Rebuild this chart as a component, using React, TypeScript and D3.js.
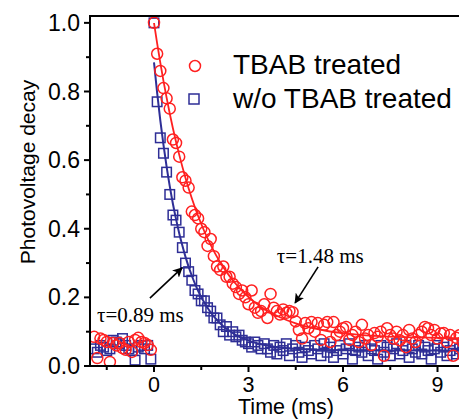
import React from "react";
import * as d3 from "d3";

const sampleTimes = [
  -1.9, -1.8, -1.7, -1.6, -1.5, -1.4, -1.3, -1.2, -1.1, -1.0, -0.9, -0.8, -0.7, -0.6, -0.5, -0.4, -0.3, -0.2, -0.1,
  0.0, 0.1, 0.2, 0.3, 0.4, 0.5, 0.6, 0.7, 0.8, 0.9, 1.0, 1.1, 1.2, 1.3, 1.4, 1.5, 1.6, 1.7, 1.8, 1.9,
  2.0, 2.1, 2.2, 2.3, 2.4, 2.5, 2.6, 2.7, 2.8, 2.9, 3.0, 3.1, 3.2, 3.3, 3.4, 3.5, 3.6, 3.7, 3.8, 3.9,
  4.0, 4.1, 4.2, 4.3, 4.4, 4.5, 4.6, 4.7, 4.8, 4.9, 5.0, 5.1, 5.2, 5.3, 5.4, 5.5, 5.6, 5.7, 5.8, 5.9,
  6.0, 6.1, 6.2, 6.3, 6.4, 6.5, 6.6, 6.7, 6.8, 6.9, 7.0, 7.1, 7.2, 7.3, 7.4, 7.5, 7.6, 7.7, 7.8, 7.9,
  8.0, 8.1, 8.2, 8.3, 8.4, 8.5, 8.6, 8.7, 8.8, 8.9, 9.0, 9.1, 9.2, 9.3, 9.4, 9.5, 9.6, 9.7, 9.8, 9.9, 10.0,
];

const tbabValues = [
  0.085, 0.023, 0.08, 0.076, 0.07, 0.012, 0.067, 0.06, 0.067, 0.052, 0.047, 0.07, 0.041, 0.076, 0.082, 0.07, 0.067, 0.061, 0.047,
  1.0, 0.91, 0.86, 0.81, 0.78, 0.75, 0.66, 0.65, 0.61, 0.55, 0.54, 0.52, 0.45, 0.44, 0.43, 0.4, 0.39, 0.35, 0.37, 0.32,
  0.29, 0.28, 0.29, 0.26, 0.26, 0.24, 0.23, 0.21, 0.22, 0.2, 0.18, 0.22, 0.17, 0.155, 0.16, 0.18, 0.14, 0.21, 0.17, 0.16,
  0.15, 0.165, 0.155, 0.16, 0.157, 0.13, 0.105, 0.08, 0.125, 0.11, 0.128, 0.1, 0.125, 0.076, 0.12, 0.128, 0.07, 0.128, 0.09, 0.1,
  0.11, 0.114, 0.076, 0.09, 0.1, 0.07, 0.12, 0.08, 0.09, 0.061, 0.096, 0.085, 0.1, 0.03, 0.11, 0.09, 0.08, 0.1, 0.075, 0.09,
  0.055, 0.105, 0.08, 0.07, 0.09, 0.1, 0.114, 0.11, 0.09, 0.105, 0.08, 0.095, 0.096, 0.07, 0.09, 0.03, 0.082, 0.09, 0.07, 0.08, 0.06,
];

const withoutValues = [
  0.05, 0.04, 0.06, 0.055, 0.045, 0.05, 0.075, 0.07, 0.065, 0.08, 0.06, 0.05, 0.045, 0.017, 0.055, 0.06, 0.05, 0.06, 0.02,
  1.0, 0.77, 0.665, 0.62, 0.565, 0.5, 0.44, 0.425, 0.39, 0.345, 0.3, 0.275, 0.25, 0.22, 0.21, 0.19, 0.19, 0.17, 0.16, 0.14,
  0.14, 0.12, 0.1, 0.115, 0.09, 0.1, 0.085, 0.09, 0.075, 0.07, 0.065, 0.055, 0.07, 0.06, 0.05, 0.065, 0.05, 0.04, 0.06, 0.035,
  0.055, 0.045, 0.065, 0.03, 0.05, 0.06, 0.04, 0.025, 0.055, 0.045, 0.035, 0.06, 0.05, 0.03, 0.065, 0.04, 0.055, 0.025, 0.045, 0.06,
  0.035, 0.05, 0.065, 0.02, 0.045, 0.055, 0.04, 0.06, 0.03, 0.05, 0.045, 0.02, 0.06, 0.04, 0.055, 0.03, 0.05, 0.065, 0.035, 0.045,
  0.06, 0.025, 0.05, 0.04, 0.06, 0.035, 0.055, 0.045, 0.02, 0.05, 0.06, 0.04, 0.055, 0.03, 0.045, 0.065, 0.035, 0.05, 0.04, 0.055, 0.03,
];

const tbabFitT = [0, 0.1, 0.2, 0.3, 0.4, 0.5, 0.6, 0.8, 1.0, 1.2, 1.4, 1.6, 1.8, 2.0, 2.2, 2.4, 2.6, 2.8, 3.0, 3.2, 3.4, 3.6, 3.8, 4.0, 4.5, 5.0, 5.5, 6.0, 7.0, 8.0, 9.0, 10.0];
const tbabFitV = [1.0, 0.94, 0.884, 0.831, 0.782, 0.736, 0.693, 0.616, 0.548, 0.489, 0.437, 0.392, 0.353, 0.318, 0.288, 0.262, 0.239, 0.219, 0.201, 0.186, 0.172, 0.161, 0.151, 0.142, 0.124, 0.111, 0.102, 0.096, 0.088, 0.084, 0.082, 0.081];

const withoutFitT = [0, 0.1, 0.2, 0.3, 0.4, 0.5, 0.6, 0.7, 0.8, 0.9, 1.0, 1.2, 1.4, 1.6, 1.8, 2.0, 2.2, 2.4, 2.6, 2.8, 3.0, 3.5, 4.0, 5.0, 6.0, 8.0, 10.0];
const withoutFitV = [0.885, 0.796, 0.716, 0.645, 0.581, 0.524, 0.473, 0.428, 0.387, 0.351, 0.318, 0.263, 0.219, 0.184, 0.156, 0.134, 0.116, 0.102, 0.09, 0.081, 0.074, 0.061, 0.054, 0.048, 0.046, 0.045, 0.045];

const xMajorTicks = [0, 3, 6, 9];
const xMinorTicks = [-1.5, 1.5, 4.5, 7.5];
const yMajorTicks = [0, 0.2, 0.4, 0.6, 0.8, 1.0];
const yMinorTicks = [0.1, 0.3, 0.5, 0.7, 0.9];

const seriesNames = ["TBAB treated", "w/o TBAB treated"];

const annotations = [
  { text: "τ=1.48 ms", tx: 3.9, ty: 0.3, from: [5.21, 0.289], to: [4.48, 0.184] },
  { text: "τ=0.89 ms", tx: -1.81, ty: 0.128, from: [-0.13, 0.198], to: [0.89, 0.286] },
];

const RED = "#ff2020";
const BLUE = "#2e2e96";
const SANS = "Arial, 'Liberation Sans', sans-serif";
const SERIF = "'Times New Roman', 'Liberation Serif', serif";

export default function App() {
  const W = 459;
  const H = 420;
  const x = d3.scaleLinear().domain([-2, 10]).range([91, 469]);
  const y = d3.scaleLinear().domain([0, 1.02]).range([366, 16]);
  const x0 = 90;
  const yBase = 366;

  const line = d3
    .line<[number, number]>()
    .x((d) => x(d[0]))
    .y((d) => y(d[1]))
    .curve(d3.curveMonotoneX);

  const tbabFit = tbabFitT.map((t, i) => [t, tbabFitV[i]] as [number, number]);
  const withoutFit = withoutFitT.map((t, i) => [t, withoutFitV[i]] as [number, number]);

  const sq = 9.5;

  return (
    <svg width={W} height={H} style={{ position: "absolute", left: 0, top: 0, background: "#fff" }}>
      <defs>
        <marker id="ah" viewBox="0 0 10 10" refX="9" refY="5" markerWidth="10" markerHeight="10" markerUnits="userSpaceOnUse" orient="auto">
          <path d="M0,0 L10,5 L0,10 L2.5,5 z" fill="#000" />
        </marker>
        <clipPath id="plot">
          <rect x={x0} y={16} width={W - x0} height={yBase - 16} />
        </clipPath>
      </defs>

      <g clipPath="url(#plot)">
        {sampleTimes.map((t, i) => (
          <rect
            key={"b" + i}
            x={x(t) - sq / 2}
            y={y(withoutValues[i]) - sq / 2}
            width={sq}
            height={sq}
            fill="none"
            stroke={BLUE}
            strokeWidth={1.5}
          />
        ))}
        <path d={line(withoutFit) || ""} fill="none" stroke={BLUE} strokeWidth={2} />
        {sampleTimes.map((t, i) => (
          <circle key={"r" + i} cx={x(t)} cy={y(tbabValues[i])} r={5.5} fill="none" stroke={RED} strokeWidth={1.5} />
        ))}
        <path d={line(tbabFit) || ""} fill="none" stroke={RED} strokeWidth={1.8} />
      </g>

      <line x1={x0} x2={W} y1={16} y2={16} stroke="#000" strokeWidth={2} />
      <line x1={x0} x2={x0} y1={15} y2={yBase + 1} stroke="#000" strokeWidth={2} />
      <line x1={x0 - 1} x2={W} y1={yBase} y2={yBase} stroke="#000" strokeWidth={2} />

      {yMajorTicks.map((v) => (
        <g key={"ym" + v}>
          <line x1={x0 - 6} x2={x0} y1={y(v)} y2={y(v)} stroke="#000" strokeWidth={2} />
          <text x={80} y={y(v)} dy="0.35em" textAnchor="end" fontFamily={SANS} fontSize={23} fill="#000">
            {v.toFixed(1)}
          </text>
        </g>
      ))}
      {yMinorTicks.map((v) => (
        <line key={"yn" + v} x1={x0 - 4} x2={x0} y1={y(v)} y2={y(v)} stroke="#000" strokeWidth={2} />
      ))}

      {xMajorTicks.map((t) => (
        <g key={"xm" + t}>
          <line x1={x(t)} x2={x(t)} y1={yBase} y2={yBase + 6} stroke="#000" strokeWidth={2} />
          <text x={x(t)} y={392} textAnchor="middle" fontFamily={SANS} fontSize={21.5} fill="#000">
            {t}
          </text>
        </g>
      ))}
      {xMinorTicks.map((t) => (
        <line key={"xn" + t} x1={x(t)} x2={x(t)} y1={yBase} y2={yBase + 4} stroke="#000" strokeWidth={2} />
      ))}

      <text x={286} y={414} textAnchor="middle" fontFamily={SANS} fontSize={21.5} fill="#000">
        Time (ms)
      </text>
      <text transform="translate(35,172) rotate(-90)" textAnchor="middle" fontFamily={SANS} fontSize={21} fill="#000">
        Photovoltage decay
      </text>

      <circle cx={195} cy={66} r={5.5} fill="none" stroke={RED} strokeWidth={1.5} />
      <text x={233} y={74} fontFamily={SANS} fontSize={28} fill="#000">
        {seriesNames[0]}
      </text>
      <rect x={194 - 5} y={99 - 5} width={10} height={10} fill="none" stroke={BLUE} strokeWidth={1.5} />
      <text x={233} y={108} fontFamily={SANS} fontSize={28} fill="#000">
        {seriesNames[1]}
      </text>

      {annotations.map((a, i) => (
        <g key={"a" + i}>
          <text x={x(a.tx)} y={y(a.ty)} fontFamily={SERIF} fontSize={21} fill="#000">
            {a.text}
          </text>
          <line
            x1={x(a.from[0])}
            y1={y(a.from[1])}
            x2={x(a.to[0])}
            y2={y(a.to[1])}
            stroke="#000"
            strokeWidth={1.6}
            markerEnd="url(#ah)"
          />
        </g>
      ))}
    </svg>
  );
}
